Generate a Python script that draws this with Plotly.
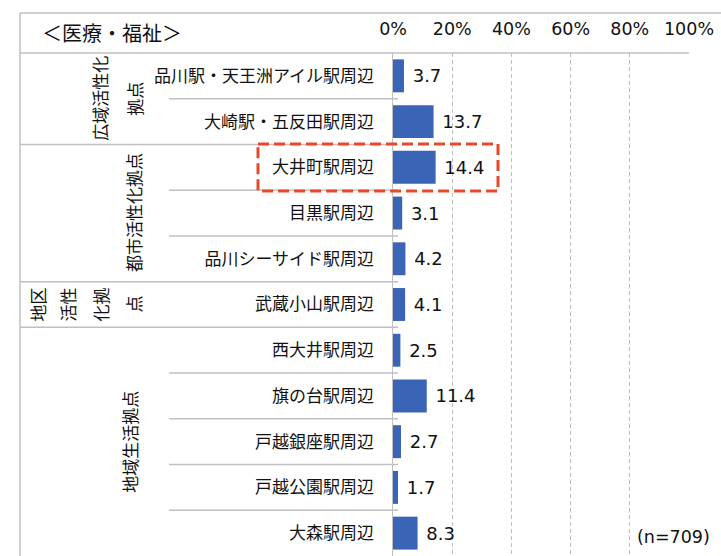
import plotly.graph_objects as go

# ---- data ----
categories = [
    "品川駅・天王洲アイル駅周辺",
    "大崎駅・五反田駅周辺",
    "大井町駅周辺",
    "目黒駅周辺",
    "品川シーサイド駅周辺",
    "武蔵小山駅周辺",
    "西大井駅周辺",
    "旗の台駅周辺",
    "戸越銀座駅周辺",
    "戸越公園駅周辺",
    "大森駅周辺",
]
values = [3.7, 13.7, 14.4, 3.1, 4.2, 4.1, 2.5, 11.4, 2.7, 1.7, 8.3]
tick_vals = [0, 20, 40, 60, 80, 100]
tick_text = ["0%", "20%", "40%", "60%", "80%", "100%"]
title_text = "＜医療・福祉＞"
note_text = "(n=709)"
# group name lines, first row index, last row index
group_lines = [
    ["広域活性化", "拠点"],
    ["都市活性化拠点"],
    ["地区", "活性", "化拠", "点"],
    ["地域生活拠点"],
]
group_rows = [(0, 1), (2, 4), (5, 5), (6, 10)]
highlight_row = 2

# ---- layout helpers (pixel positions) ----
W, H = 721, 556
def px(x):
    return x / W
def py(y):
    return 1 - y / H

group_cols = [[100, 135], [133], [37, 67, 100, 133], [130]]

CJK = "Noto Sans CJK JP"
LAT = "DejaVu Sans"
GRID = "#bfbfbf"
BORDER = "#c0c0c0"

fig = go.Figure(
    go.Bar(
        x=values,
        y=categories,
        orientation="h",
        marker=dict(color="#3a64b5", line=dict(width=0)),
        width=0.72,
        text=values,
        texttemplate=" %{x:.1f}",
        textposition="outside",
        constraintext="none",
        cliponaxis=False,
        textfont=dict(family=LAT, size=18, color="#111"),
        hoverinfo="skip",
    )
)

shapes = []
line_style = dict(color=BORDER, width=1.5)
# outer frame
shapes.append(dict(type="line", xref="paper", yref="paper", x0=px(20), x1=px(721), y0=py(13), y1=py(13), line=line_style))
shapes.append(dict(type="line", xref="paper", yref="paper", x0=px(20), x1=px(689), y0=py(53), y1=py(53), line=line_style))
shapes.append(dict(type="line", xref="paper", yref="paper", x0=px(20), x1=px(20), y0=py(13), y1=py(556), line=line_style))
# row separators
group_ends = [g[1] for g in group_rows[:-1]]
for i in range(len(categories) - 1):
    x0 = 20 if i in group_ends else 169
    shapes.append(dict(type="line", xref="paper", yref="y", x0=px(x0), x1=px(398),
                       y0=i + 0.5, y1=i + 0.5, line=line_style))
# highlight box
shapes.append(dict(type="rect", xref="paper", yref="y", x0=px(258), x1=px(498),
                   y0=highlight_row - 0.51, y1=highlight_row + 0.52,
                   line=dict(color="#e8492a", width=3, dash="11px,5px"),
                   fillcolor="rgba(0,0,0,0)", layer="above"))

annotations = []
annotations.append(dict(text=title_text, xref="paper", yref="paper", x=px(112), y=py(33),
                        xanchor="center", yanchor="middle", showarrow=False,
                        font=dict(family=CJK, size=20, color="#111")))
annotations.append(dict(text=note_text, xref="paper", yref="paper", x=px(673), y=py(537),
                        xanchor="center", yanchor="middle", showarrow=False,
                        font=dict(family=LAT, size=17.5, color="#111")))
for lines, (r0, r1), cols in zip(group_lines, group_rows, group_cols):
    yc = (r0 + r1) / 2
    for t, cx in zip(lines, cols):
        annotations.append(dict(text=t, xref="paper", yref="y", x=px(cx), y=yc,
                                textangle=-90, xanchor="center", yanchor="middle",
                                showarrow=False, font=dict(family=CJK, size=17, color="#111")))

fig.update_layout(
    width=W, height=H,
    autosize=False,
    margin=dict(l=0, r=0, t=0, b=0, pad=0, autoexpand=False),
    paper_bgcolor="white", plot_bgcolor="white",
    showlegend=False,
    shapes=shapes,
    annotations=annotations,
    xaxis=dict(
        domain=[px(393), px(689)], range=[0, 100], side="top",
        tickvals=tick_vals, ticktext=tick_text,
        showgrid=True, gridcolor=GRID, griddash="4px,3px", gridwidth=1,
        zeroline=False, showline=False, ticks="",
        tickfont=dict(family=LAT, size=17.5, color="#111"),
        ticklabelstandoff=14, fixedrange=True, automargin=False,
    ),
    yaxis=dict(
        domain=[0, py(53)], range=[10.5, -0.5],
        categoryorder="array", categoryarray=categories,
        showline=True, linecolor=BORDER, linewidth=1.5,
        showgrid=False, zeroline=False, ticks="",
        tickfont=dict(family=CJK, size=17, color="#111"),
        ticklabelstandoff=14, fixedrange=True, automargin=False,
    ),
)

fig.write_html(
    "out.html",
    config={"displayModeBar": False, "staticPlot": True},
    post_script="document.body.style.margin='0';document.body.style.overflow='hidden';",
)
